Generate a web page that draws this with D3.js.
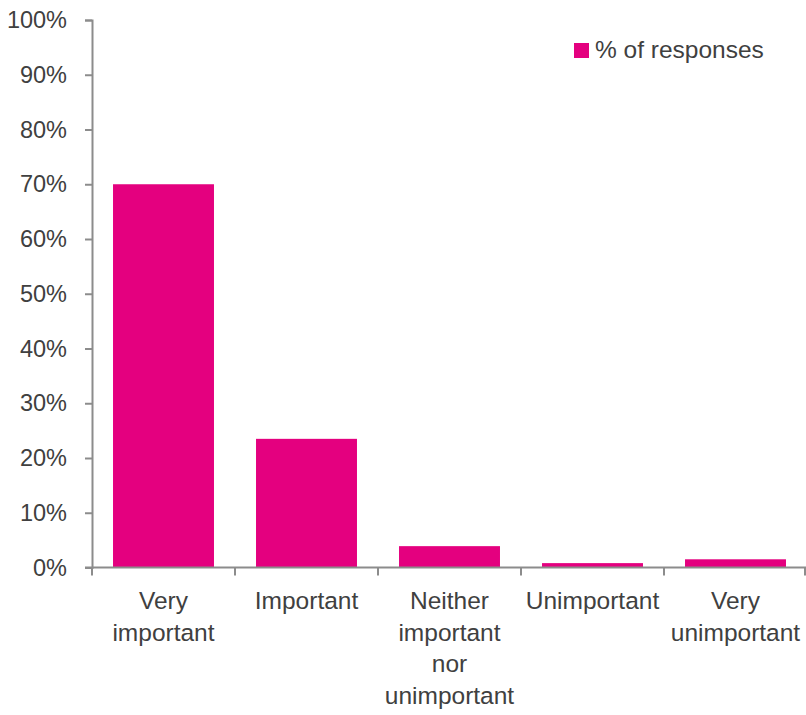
<!DOCTYPE html>
<html>
<head>
<meta charset="utf-8">
<script src="https://cdn.jsdelivr.net/npm/d3@7"></script>
<style>
  html, body { margin: 0; padding: 0; background: #fff; }
  svg { display: block; }
  text { font-family: "Liberation Sans", Arial, sans-serif; fill: #404040; }
</style>
</head>
<body>
<svg id="chart" width="806" height="715"></svg>
<script>
// Survey responses: how important is it?
const categories = [
  ["Very", "important"],
  ["Important"],
  ["Neither", "important", "nor", "unimportant"],
  ["Unimportant"],
  ["Very", "unimportant"]
];
const values = [70, 23.5, 3.9, 0.8, 1.5];
const yTicks = [0, 10, 20, 30, 40, 50, 60, 70, 80, 90, 100];
const seriesName = "% of responses";

const barColor = "#E4007F";
const axisColor = "#8c8c8c";

const svg = d3.select("#chart");
const margin = { left: 92, top: 20 };

const x = d3.scaleBand()
  .domain(d3.range(categories.length))
  .range([margin.left, 807])
  .paddingInner(0.294)
  .paddingOuter(0.147);

const y = d3.scaleLinear()
  .domain([0, 100])
  .range([567.5, margin.top]);

// bars
svg.append("g").selectAll("rect")
  .data(values)
  .join("rect")
  .attr("x", (d, i) => x(i))
  .attr("width", x.bandwidth())
  .attr("y", d => y(d))
  .attr("height", d => y(0) - y(d))
  .attr("fill", barColor);

// y axis
const yAxis = svg.append("g")
  .attr("transform", `translate(${margin.left},0)`)
  .call(d3.axisLeft(y).tickValues(yTicks).tickFormat(d => d + "%").tickSize(7).tickPadding(18));
yAxis.select(".domain").attr("stroke", axisColor).attr("stroke-width", 2);
yAxis.selectAll(".tick line").attr("stroke", axisColor).attr("stroke-width", 2);
yAxis.selectAll(".tick text")
  .attr("font-size", 23.5)
  .attr("font-family", null)
  .attr("fill", "#404040");

// x axis baseline and category separators
const step = x.step();
const xg = svg.append("g");
xg.append("line")
  .attr("x1", margin.left - 7).attr("x2", 806)
  .attr("y1", y(0)).attr("y2", y(0))
  .attr("stroke", axisColor).attr("stroke-width", 2);
const edges = d3.range(categories.length + 1).map(i => margin.left + i * step);
xg.selectAll("line.sep")
  .data(edges)
  .join("line")
  .attr("class", "sep")
  .attr("x1", d => Math.min(d, 805)).attr("x2", d => Math.min(d, 805))
  .attr("y1", y(0)).attr("y2", y(0) + 8)
  .attr("stroke", axisColor).attr("stroke-width", 2);

// category labels
const labels = svg.append("g").selectAll("text")
  .data(categories)
  .join("text")
  .attr("text-anchor", "middle")
  .attr("font-size", 24.5)
  .attr("x", (d, i) => x(i) + x.bandwidth() / 2);
labels.selectAll("tspan")
  .data(d => d)
  .join("tspan")
  .attr("x", function() { return d3.select(this.parentNode).attr("x"); })
  .attr("y", (d, i) => 609 + i * 31.6)
  .text(d => d);

// legend
const legend = svg.append("g");
legend.append("rect")
  .attr("x", 574).attr("y", 43).attr("width", 15).attr("height", 15)
  .attr("fill", barColor);
legend.append("text")
  .attr("x", 595).attr("y", 58)
  .attr("font-size", 24.5)
  .text(seriesName);
</script>
</body>
</html>
